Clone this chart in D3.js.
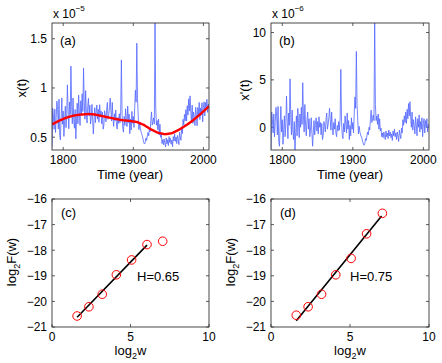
<!DOCTYPE html>
<html>
<head>
<meta charset="utf-8">
<script src="https://cdn.jsdelivr.net/npm/d3@7"></script>
<style>
body { margin: 0; background: #fff; }
text { font-family: "Liberation Sans", Arial, sans-serif; fill: #000; }
</style>
</head>
<body>
<script>
//first year of the annual series
var startYear = 1784;

//detrended series x'(t), units of 1e-6, one value per year 1784-2008
var xPrime = [
    -2.3, 1.6, 0.8, -0.6, 1.4, -1.0,                          //1784-1789
    0.5, 2.1, 1.2, -0.8, 2.2, -1.5, -2.0, 0.3, 2.2, -0.5,     //1790s
    0.8, -1.8, -0.2, 1.2, -1.0, 0.4, 3.3, 0.5, -1.2, 1.5,     //1800s
    0.2, 5.1, 1.0, -0.8, 1.8, -0.4, -1.3, 0.6, -2.4, -0.6,    //1810s
    1.2, -0.9, 2.0, 0.4, -1.1, 1.4, 0.0, 2.1, 0.3, 4.7,       //1820s
    1.2, -0.5, 2.4, 0.2, -0.9, 0.8, 1.6, -0.2, 0.9, -1.0,     //1830s
    -0.3, 1.0, -0.6, -2.0, -0.5, 0.7, -0.8, 0.3, 1.0, -0.4,   //1840s
    0.6, -0.7, 1.1, 0.0, 0.5, -0.8, 0.4, -1.3, -0.9, 0.6,     //1850s
    0.2, -0.5, 0.8, 1.5, -0.2, 0.3, 1.0, 2.0, 0.8, -0.3,      //1860s
    1.6, 0.0, -0.8, 0.5, -0.2, 0.9, -0.6, -1.0, 0.2, -0.4,    //1870s
    0.6, -0.3, 0.9, 6.1, 0.6, -0.8, -1.2, 0.4, -0.5, 1.2,     //1880s
    0.3, -0.6, 1.5, -0.2, 0.7, -1.3, 0.2, -0.9, 1.0, -0.2,    //1890s
    0.5, -0.6, 1.4, 3.2, 2.0, 8.0, 2.4, 0.7, -0.7, 0.1,       //1900s
    -0.5, -0.8, -1.0, -1.2, -1.5, -1.8, -1.9, -1.7, -1.2, -1.4, //1910s
    -0.9, -0.5, -0.8, 0.0, -0.3, 0.9, 1.8, 0.5, 0.9, 1.3,     //1920s
    0.7, 11.5, 2.4, 0.7, 1.2, 0.3, 1.4, -0.2, 0.9, -0.4,      //1930s
    -0.1, -1.0, -0.6, -1.1, -0.5, -0.9, -1.3, -0.4, -1.0, -0.6, //1940s
    -1.2, -0.3, -0.9, -0.5, -1.1, -0.7, -1.4, -0.4, -0.9, -0.2, //1950s
    -1.0, -0.6, -1.3, -0.5, -0.9, -1.5, -0.3, -0.8, -1.2, -0.1, //1960s
    -0.6, 0.8, 0.2, 1.2, 0.5, 1.6, 0.4, 1.9, 0.9, 2.5,        //1970s
    1.2, 2.7, 1.0, 0.0, 1.6, -0.3, 0.8, 0.2, -0.7, 1.1,       //1980s
    0.3, -0.9, 0.9, 0.0, 1.3, -0.5, 0.6, -0.2, 1.0, -1.0,     //1990s
    0.4, 0.9, -0.6, 0.7, 0.0, 0.9, -0.5, 0.3, 0.1             //2000-2008
];

//smooth trend (red curve), units of 1e-5, one value per year 1784-2008
var trend = [
    .630, .634, .637, .641, .645, .648, .652, .656, .659, .663, .666, .670,
    .673, .676, .679, .682, .685, .688, .691, .694, .697, .700,
    .702, .704, .706, .708, .710, .712, .714, .716, .718, .720,
    .721, .722, .723, .724, .725, .726, .727, .728, .729, .730,
    .730, .731, .731, .732, .732, .733, .733, .734, .734, .735,
    .735, .735, .735, .734, .734, .733, .733, .732, .731, .730,
    .729, .727, .726, .724, .723, .721, .720, .718, .717, .715,
    .714, .712, .711, .709, .708, .706, .705, .703, .702, .700,
    .699, .697, .696, .694, .693, .691, .690, .688, .687, .685,
    .684, .682, .681, .680, .678, .677, .676, .675, .673, .672,
    .671, .671, .670, .669, .669, .668, .667, .667, .666, .665,
    .664, .663, .662, .661, .660, .659, .658, .657, .656, .655,
    .652, .649, .646, .643, .640, .637, .634, .631, .628, .625,
    .621, .616, .612, .607, .603, .598, .594, .589, .585, .580,
    .577, .573, .570, .566, .563, .559, .556, .552, .549, .545,
    .544, .542, .541, .539, .538, .536, .535, .533, .532, .530,
    .531, .532, .533, .534, .535, .536, .537, .538, .539, .540,
    .544, .547, .551, .554, .558, .561, .565, .568, .572, .575,
    .580, .584, .589, .593, .598, .602, .607, .611, .616, .620,
    .625, .630, .635, .640, .645, .650, .655, .660, .665, .670,
    .676, .682, .688, .694, .700, .706, .712, .718, .724, .730,
    .737, .743, .750, .756, .763, .769, .776, .782, .789, .795,
    .802, .808, .815
];

//DFA results: log2 of window size and log2 of fluctuation
var log2w = [1.6, 2.35, 3.2, 4.1, 5.07, 6.05, 7.05];
var log2Fc = [-20.57, -20.21, -19.72, -18.96, -18.38, -17.78, -17.65];
var log2Fd = [-20.54, -20.21, -19.72, -18.96, -18.32, -17.36, -16.56];

//fitted lines (end points)
var fitC = [[1.6, -20.62], [6.05, -17.80]];
var fitD = [[1.6, -20.76], [7.0, -16.66]];

//tick values
var yearTicks = [1800, 1900, 2000];
var xTicksA = [0.5, 1, 1.5];
var xTicksB = [0, 5, 10];
var wTicks = [0, 5, 10];
var fTicks = [-21, -20, -19, -18, -17, -16];

//raw series = detrended fluctuation (1e-6) put back on the trend (1e-5)
var series = xPrime.map(function(v, i){
    return {year: startYear + i, raw: trend[i] + v / 10, detr: v, trend: trend[i]};
});

var width = 442, height = 363;

var svg = d3.select("body")
    .append("svg")
    .attr("width", width)
    .attr("height", height);

svg.append("rect")
    .attr("width", width)
    .attr("height", height)
    .attr("fill", "#fff");

var defs = svg.append("defs");

//draw inward ticks on all four sides and tick labels
function drawAxes(g, x, y, xt, yt, xfmt, yfmt, name){
    var x0 = x.range()[0], x1 = x.range()[1],
        y0 = y.range()[0], y1 = y.range()[1];
    var tl = 3;

    defs.append("clipPath")
        .attr("id", "clip-" + name)
        .append("rect")
        .attr("x", x0).attr("y", y1)
        .attr("width", x1 - x0).attr("height", y0 - y1);

    g.selectAll(".xt").data(xt).enter().append("path")
        .attr("d", function(d){
            var px = x(d);
            return "M" + px + "," + y0 + "V" + (y0 - tl) + "M" + px + "," + y1 + "V" + (y1 + tl);
        })
        .attr("stroke", "#333").attr("stroke-width", 0.8);

    g.selectAll(".yt").data(yt).enter().append("path")
        .attr("d", function(d){
            var py = y(d);
            return "M" + x0 + "," + py + "H" + (x0 + tl) + "M" + x1 + "," + py + "H" + (x1 - tl);
        })
        .attr("stroke", "#333").attr("stroke-width", 0.8);

    g.selectAll(".xl").data(xt).enter().append("text")
        .attr("x", function(d){ return x(d); })
        .attr("y", y0 + 14)
        .attr("text-anchor", "middle")
        .attr("font-size", 12)
        .text(xfmt);

    g.selectAll(".yl").data(yt).enter().append("text")
        .attr("x", x0 - 5)
        .attr("y", function(d){ return y(d); })
        .attr("dy", "0.36em")
        .attr("text-anchor", "end")
        .attr("font-size", 12)
        .text(yfmt);
}

function drawBox(g, x, y){
    g.append("rect")
        .attr("x", x.range()[0])
        .attr("y", y.range()[1])
        .attr("width", x.range()[1] - x.range()[0])
        .attr("height", y.range()[0] - y.range()[1])
        .attr("fill", "none")
        .attr("stroke", "#333")
        .attr("stroke-width", 0.9);
}

function plainFmt(d){ return d3.format("")(d); }
function minusFmt(d){ return (d < 0 ? "\u2212" : "") + Math.abs(d); }

function exponentLabel(g, px, py, exp){
    var t = g.append("text")
        .attr("x", px)
        .attr("y", py)
        .attr("font-size", 12);
    t.append("tspan").text("x 10");
    t.append("tspan")
        .attr("font-size", 8)
        .attr("dy", -7)
        .text(exp);
}

//panel (a): raw series with trend
var gA = svg.append("g");
var xA = d3.scaleLinear().domain([1784, 2008]).range([52, 209]);
var yA = d3.scaleLinear().domain([0.37, 1.66]).range([150, 23]);
drawAxes(gA, xA, yA, yearTicks, xTicksA, plainFmt, plainFmt, "a");

gA.append("path")
    .datum(series)
    .attr("clip-path", "url(#clip-a)")
    .attr("fill", "none")
    .attr("stroke", "#5266ff")
    .attr("stroke-width", 0.8)
    .attr("d", d3.line().x(function(d){ return xA(d.year); }).y(function(d){ return yA(d.raw); }));

gA.append("path")
    .datum(series)
    .attr("clip-path", "url(#clip-a)")
    .attr("fill", "none")
    .attr("stroke", "#ff0000")
    .attr("stroke-width", 2.4)
    .attr("d", d3.line().curve(d3.curveBasis).x(function(d){ return xA(d.year); }).y(function(d){ return yA(d.trend); }));

drawBox(gA, xA, yA);
exponentLabel(gA, 53, 18, "\u22125");
gA.append("text").attr("x", 60).attr("y", 45).attr("font-size", 13).text("(a)");
gA.append("text")
    .attr("transform", "translate(26,88) rotate(-90)")
    .attr("text-anchor", "middle").attr("font-size", 13)
    .text("x(t)");
gA.append("text")
    .attr("x", 130).attr("y", 179)
    .attr("text-anchor", "middle").attr("font-size", 13)
    .text("Time (year)");

//panel (b): detrended series
var gB = svg.append("g");
var xB = d3.scaleLinear().domain([1784, 2008]).range([271, 429]);
var yB = d3.scaleLinear().domain([-2.4, 11]).range([150, 23]);
drawAxes(gB, xB, yB, yearTicks, xTicksB, plainFmt, plainFmt, "b");

gB.append("path")
    .datum(series)
    .attr("clip-path", "url(#clip-b)")
    .attr("fill", "none")
    .attr("stroke", "#5266ff")
    .attr("stroke-width", 0.8)
    .attr("d", d3.line().x(function(d){ return xB(d.year); }).y(function(d){ return yB(d.detr); }));

drawBox(gB, xB, yB);
exponentLabel(gB, 272, 18, "\u22126");
gB.append("text").attr("x", 279).attr("y", 45).attr("font-size", 13).text("(b)");
gB.append("text")
    .attr("transform", "translate(249,90) rotate(-90)")
    .attr("text-anchor", "middle").attr("font-size", 13)
    .text("x'(t)");
gB.append("text")
    .attr("x", 350).attr("y", 179)
    .attr("text-anchor", "middle").attr("font-size", 13)
    .text("Time (year)");

//panels (c) and (d): DFA fits
function dfaPanel(left, right, name, values, fit, hText, hx, yLabelX){
    var g = svg.append("g");
    var x = d3.scaleLinear().domain([0, 10]).range([left, right]);
    var y = d3.scaleLinear().domain([-21, -16]).range([327, 199]);
    drawAxes(g, x, y, wTicks, fTicks, plainFmt, minusFmt, name);

    g.append("path")
        .datum(fit)
        .attr("fill", "none")
        .attr("stroke", "#000")
        .attr("stroke-width", 1.6)
        .attr("d", d3.line().x(function(d){ return x(d[0]); }).y(function(d){ return y(d[1]); }));

    g.selectAll(".pt")
        .data(values)
        .enter()
        .append("circle")
        .attr("cx", function(d, i){ return x(log2w[i]); })
        .attr("cy", function(d){ return y(d); })
        .attr("r", 4.3)
        .attr("fill", "none")
        .attr("stroke", "#ff0000")
        .attr("stroke-width", 1);

    drawBox(g, x, y);

    g.append("text").attr("x", left + 9).attr("y", 217).attr("font-size", 13).text("(" + name + ")");
    g.append("text").attr("x", hx).attr("y", 281).attr("font-size", 13).text(hText);

    var yl = g.append("text")
        .attr("transform", "translate(" + yLabelX + ",262) rotate(-90)")
        .attr("text-anchor", "middle").attr("font-size", 13);
    yl.append("tspan").text("log");
    yl.append("tspan").attr("font-size", 9).attr("dy", 4).text("2");
    yl.append("tspan").attr("dy", -4).text("F(w)");

    var xl = g.append("text")
        .attr("x", (left + right) / 2).attr("y", 355)
        .attr("text-anchor", "middle").attr("font-size", 13);
    xl.append("tspan").text("log");
    xl.append("tspan").attr("font-size", 9).attr("dy", 4).text("2");
    xl.append("tspan").attr("dy", -4).text("w");
}

dfaPanel(52, 209, "c", log2Fc, fitC, "H=0.65", 137, 16);
dfaPanel(271, 429, "d", log2Fd, fitD, "H=0.75", 350, 235);
</script>
</body>
</html>
